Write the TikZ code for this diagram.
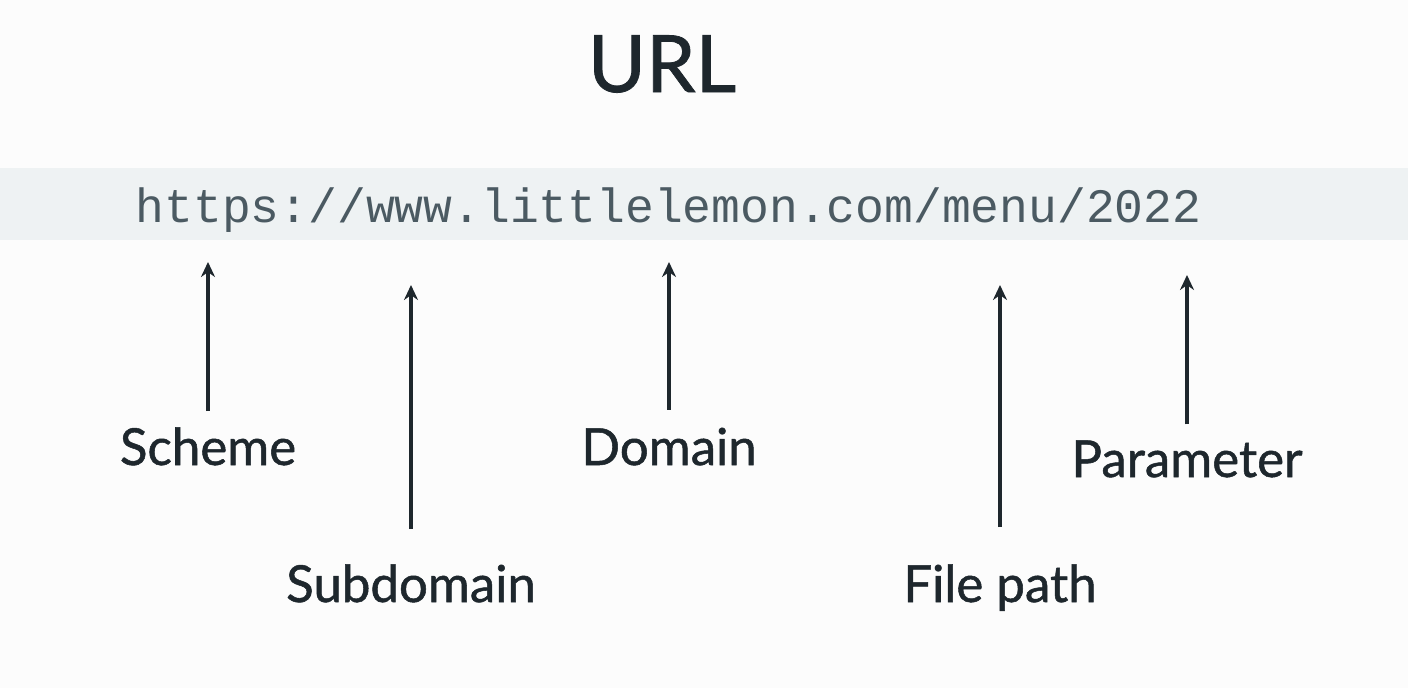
\documentclass[tikz,border=0pt]{standalone}
\usepackage{fontspec}
\setmainfont{Lato}
\newfontfamily\labelfont{Lato}[BoldFont=Lato, BoldFeatures={FakeBold=1}]
\newfontfamily\urlmono{Liberation Mono}
\usetikzlibrary{arrows.meta,positioning}
\definecolor{inkdark}{HTML}{1E272D}
\definecolor{urlgray}{HTML}{4B5A62}
\definecolor{bandblue}{HTML}{EEF2F3}
\definecolor{pagewhite}{HTML}{FCFCFC}
\tikzset{
    % pfeile zu den url-teilen
    partarrow/.style={
        line width=3.2pt,
        inkdark,
        -{Stealth[length=15pt, width=14pt]}
    },
    partlabel/.style={
        font=\labelfont\bfseries\fontsize{51}{60}\selectfont,
        text=inkdark,
        inner sep=0pt,
        anchor=base
    }
}

\begin{document}
\begin{tikzpicture}[x=1pt,y=-1pt]
	\useasboundingbox[fill=pagewhite] (0,0) rectangle (1408,688);
	\fill[bandblue] (0,168) rectangle (1408,240);
	
	% titel
	\node[font=\labelfont\bfseries\fontsize{79}{90}\selectfont, text=inkdark, inner sep=0pt, anchor=base] (title) at (662,92) {URL};
	% url
	\node[font=\urlmono\fontsize{48}{58}\selectfont, text=urlgray, inner sep=0pt, anchor=base] (url) at (668.5,222) {https://www.littlelemon.com/menu/2022};
	
	% beschriftungen
	\node[partlabel] (scheme) at (208,465) {Scheme};
	\node[partlabel] (subdomain) at (411,602) {Subdomain};
	\node[partlabel] (domain) at (669,465) {Domain};
	\node[partlabel] (filepath) at (1000,602) {File path};
	\node[partlabel] (parameter) at (1187,477) {Parameter};
	
	\path
	(208,262) coordinate (schemetip)
	(411,285) coordinate (subdomaintip)
	(669,262) coordinate (domaintip)
	(1000,285) coordinate (filepathtip)
	(1187,275) coordinate (parametertip);
	
	% pfeile
	\draw[partarrow, shorten <=16pt] (scheme.north) to (scheme.north |- schemetip);
	\draw[partarrow, shorten <=35pt] (subdomain.north) to (subdomain.north |- subdomaintip);
	\draw[partarrow, shorten <=18pt] (domain.north) to (domain.north |- domaintip);
	\draw[partarrow, shorten <=37pt] (filepath.north) to (filepath.north |- filepathtip);
	\draw[partarrow, shorten <=16pt] (parameter.north) to (parameter.north |- parametertip);
\end{tikzpicture}
\end{document}
